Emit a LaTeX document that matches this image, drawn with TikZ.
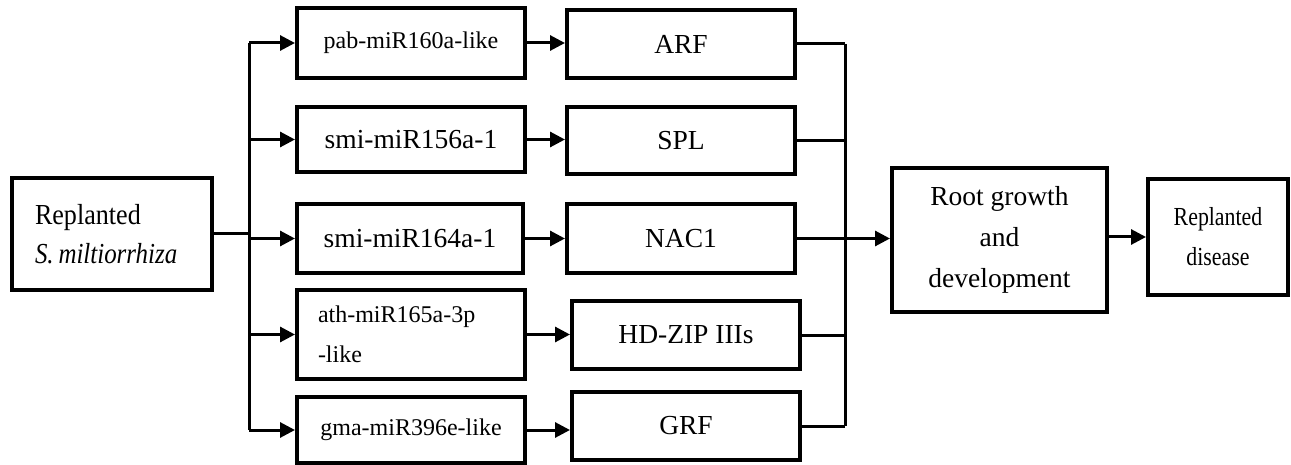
\documentclass[tikz,border=0pt]{standalone}
\usepackage{fontspec}
\setmainfont{Liberation Serif}
\newfontfamily\condfont[FakeStretch=0.9]{Liberation Serif}
\newfontfamily\conditfont[FakeStretch=0.86]{Liberation Serif}
\newfontfamily\condfontb[FakeStretch=0.84]{Liberation Serif}
\usetikzlibrary{arrows.meta}
\begin{document}
\begin{tikzpicture}[x=1pt,y=-1pt,
  box/.style={draw=black,line width=4pt,inner sep=0pt,align=center},
  conn/.style={line width=3pt},
  arr/.style={line width=3pt,-{Triangle[length=15pt,width=15pt]}},
  fa/.style={font=\fontsize{24}{40}\selectfont},
  fb/.style={font=\fontsize{27.5}{41}\selectfont}]
\useasboundingbox (0,0) rectangle (1291,465);
% source
\node[box,minimum width=200pt,minimum height=112pt,text width=154pt,inner xsep=23pt,align=left,
  font=\condfont\fontsize{29}{39}\selectfont] (src) at (112,234) {Replanted\\{\conditfont\itshape S.\,miltiorrhiza}};
% miRNA boxes
\node[box,fa,minimum width=228pt,minimum height=70pt] (m1) at (411,43) {pab-miR160a-like};
\node[box,fb,minimum width=228pt,minimum height=65pt] (m2) at (411,139.5) {smi-miR156a-1};
\node[box,fb,minimum width=226pt,minimum height=69pt] (m3) at (410,238.5) {smi-miR164a-1};
\node[box,fa,minimum width=228pt,minimum height=89pt,text width=186pt,inner xsep=21pt,align=left] (m4) at (411,334.5) {ath-miR165a-3p\\-like};
\node[box,fa,minimum width=228pt,minimum height=66pt] (m5) at (411,430) {gma-miR396e-like};
% targets
\node[box,fb,minimum width=228pt,minimum height=68pt] (t1) at (681,44) {ARF};
\node[box,fb,minimum width=228pt,minimum height=67pt] (t2) at (681,140.5) {SPL};
\node[box,fb,minimum width=228pt,minimum height=69pt] (t3) at (681,238.5) {NAC1};
\node[box,fb,minimum width=228pt,minimum height=68pt] (t4) at (686,335) {HD-ZIP IIIs};
\node[box,fb,minimum width=228pt,minimum height=68pt] (t5) at (686,426) {GRF};
% outcome
\node[box,fb,minimum width=215pt,minimum height=144pt] (root) at (999.5,240) {Root growth\\and\\development};
\node[box,minimum width=140pt,minimum height=116pt,font=\condfontb\fontsize{26}{40}\selectfont] (dis) at (1218,237) {Replanted\\disease};
% left trunk
\coordinate (lt) at (249,0);
\draw[conn] (src.east) -- (src.east -| lt);
\draw[conn] (lt |- m1) -- (lt |- m5);
\foreach \m in {m1,m2,m3,m4,m5} \draw[arr] (lt |- \m) -- (\m.west);
% miRNA to targets
\foreach \m/\t in {m1/t1,m2/t2,m3/t3,m4/t4,m5/t5} \draw[arr] (\m.east) -- (\m.east -| \t.west);
% right trunk
\coordinate (rt) at (845,0);
\foreach \t in {t1,t2,t3,t4,t5} \draw[conn] (\t.east) -- (\t.east -| rt);
\draw[conn] (rt |- t1) -- (rt |- t5);
\draw[arr] (t3.east) -- (t3.east -| root.west);
\draw[arr] (root.east |- dis) -- (dis.west);
\end{tikzpicture}
\end{document}
